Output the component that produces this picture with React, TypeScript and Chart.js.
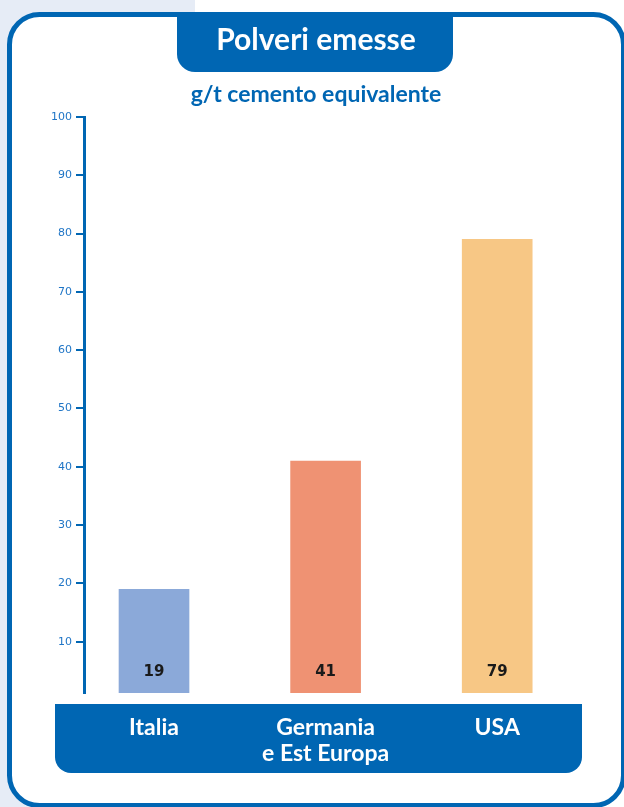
import React, { useEffect, useRef } from 'react';
import { Chart, registerables } from 'chart.js';

Chart.register(...registerables);

const categories: string[][] = [['Italia'], ['Germania', 'e Est Europa'], ['USA']];
const values: number[] = [19, 41, 79];
const barColors: string[] = ['#8BA9D9', '#EF9273', '#F7C785'];
const yTickValues: number[] = [10, 20, 30, 40, 50, 60, 70, 80, 90, 100];
const titleText = 'Polveri emesse';
const subtitleText = 'g/t cemento equivalente';

const BLUE = '#0066B3';

function bottomRounded(ctx: CanvasRenderingContext2D, l: number, t: number, r: number, b: number, rad: number) {
  ctx.beginPath();
  ctx.moveTo(l, t);
  ctx.lineTo(r, t);
  ctx.lineTo(r, b - rad);
  ctx.arcTo(r, b, r - rad, b, rad);
  ctx.lineTo(l + rad, b);
  ctx.arcTo(l, b, l, b - rad, rad);
  ctx.closePath();
}

const decor = {
  id: 'decor',
  beforeDraw(chart: any) {
    const { ctx, width, height, chartArea: ca } = chart;
    ctx.save();
    ctx.fillStyle = '#ffffff';
    ctx.fillRect(0, 0, width, height);
    ctx.fillStyle = '#E6ECF6';
    ctx.fillRect(0, 0, 195, height);
    // card
    ctx.beginPath();
    (ctx as any).roundRect(9.5, 14.5, 614, 791, 30);
    ctx.fillStyle = '#ffffff';
    ctx.fill();
    ctx.lineWidth = 5;
    ctx.strokeStyle = BLUE;
    ctx.stroke();
    // title tab
    ctx.fillStyle = BLUE;
    bottomRounded(ctx, 177, 12, 453, 72, 18);
    ctx.fill();
    // category band
    bottomRounded(ctx, ca.left - 29, ca.bottom + 11, ca.right - 1, ca.bottom + 80, 16);
    ctx.fill();
    ctx.restore();
  },
};

const valueLabels = {
  id: 'valueLabels',
  afterDatasetsDraw(chart: any) {
    const { ctx, chartArea: ca } = chart;
    const meta = chart.getDatasetMeta(0);
    ctx.save();
    ctx.fillStyle = '#1a1a1a';
    ctx.font = 'bold 15px "DejaVu Sans"';
    ctx.textAlign = 'center';
    ctx.textBaseline = 'middle';
    meta.data.forEach((bar: any, i: number) => {
      ctx.fillText(String(values[i]), bar.x, ca.bottom - 21);
    });
    ctx.restore();
  },
};

export default function App() {
  const ref = useRef<HTMLCanvasElement>(null);

  useEffect(() => {
    document.body.style.margin = '0';
    const canvas = ref.current!;
    const chart = new Chart(canvas, {
      type: 'bar',
      data: {
        datasets: [
          {
            data: values.map((v, i) => ({ x: i, y: v })),
            backgroundColor: barColors,
            barThickness: 70,
          } as any,
        ],
      },
      options: {
        responsive: false,
        animation: false,
        devicePixelRatio: 1,
        layout: { padding: { left: 49, right: 41, top: 0, bottom: 0 } },
        plugins: {
          legend: { display: false },
          tooltip: { enabled: false },
          title: {
            display: true,
            text: titleText,
            color: '#ffffff',
            font: { family: 'Lato', size: 30, weight: 'bold', lineHeight: 1.2 },
            padding: { top: 22, bottom: 17 },
          },
          subtitle: {
            display: true,
            text: subtitleText,
            color: BLUE,
            font: { family: 'Lato', size: 23, weight: 'bold', lineHeight: 1.2 },
            padding: { top: 6.2, bottom: 8.2 },
          },
        },
        scales: {
          x: {
            type: 'linear',
            offset: false,
            min: -0.408,
            max: 2.5,
            grid: { display: false, offset: false },
            border: { display: false },
            afterBuildTicks: (s: any) => {
              s.ticks = categories.map((_, i) => ({ value: i }));
            },
            afterFit: (s: any) => {
              s.height = 114;
            },
            ticks: {
              autoSkip: false,
              maxRotation: 0,
              callback: (_v: any, i: number) => categories[i],
              color: '#ffffff',
              font: { family: 'Lato', size: 23, weight: 'bold', lineHeight: 1.1 },
              padding: 14.3,
            },
          },
          y: {
            type: 'linear',
            min: 1.2,
            max: 100,
            afterBuildTicks: (s: any) => {
              s.ticks = yTickValues.map((v) => ({ value: v }));
            },
            afterFit: (s: any) => {
              s.width = 35;
            },
            border: { display: true, color: BLUE, width: 3 },
            grid: { drawOnChartArea: false, drawTicks: true, tickLength: 8, color: BLUE, lineWidth: 2 },
            ticks: {
              color: '#1F75C6',
              font: { family: 'DejaVu Sans', size: 11 },
              padding: 4,
            },
          },
        },
      } as any,
      plugins: [decor, valueLabels],
    });
    return () => chart.destroy();
  }, []);

  return (
    <div style={{ width: 624, height: 807 }}>
      <canvas ref={ref} width={624} height={807} style={{ display: 'block' }} />
    </div>
  );
}
